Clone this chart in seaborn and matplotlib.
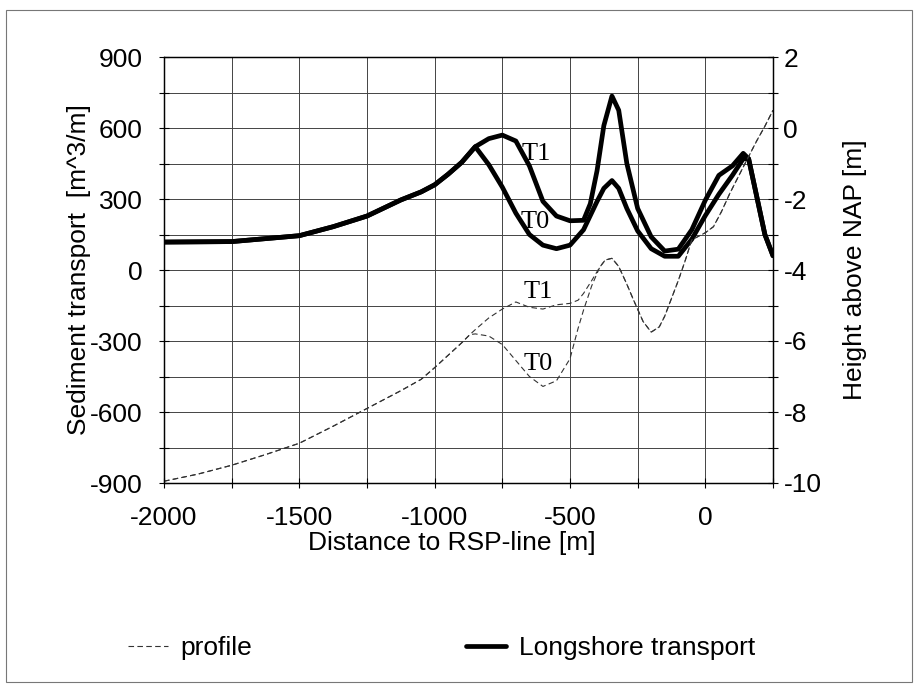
import matplotlib
matplotlib.use('Agg')
import matplotlib.pyplot as plt
from matplotlib.patches import Rectangle
from matplotlib.ticker import MultipleLocator
import pandas as pd
import seaborn as sns

sns.set_theme(style='white')
plt.rcParams['font.family'] = ['Liberation Sans', 'DejaVu Sans']
plt.rcParams['axes.unicode_minus'] = False
plt.rcParams['text.color'] = 'black'
plt.rcParams['axes.labelcolor'] = 'black'
plt.rcParams['xtick.color'] = 'black'
plt.rcParams['ytick.color'] = 'black'

# longshore transport [m^3/m], T0 and T1
x_tr = [-2000, -1750, -1500, -1375, -1250, -1125, -1050, -1000, -950, -900,
        -850, -800, -750, -700, -650, -600, -550, -500, -450, -425,
        -400, -375, -345, -320, -290, -250, -200, -150, -100, -50,
        0, 50, 100, 140, 160, 190, 220, 250]
tr_t1 = [118, 120, 145, 183, 228, 296, 330, 360, 405, 455,
         521, 555, 570, 545, 440, 290, 228, 208, 210, 280,
         420, 610, 735, 675, 450, 260, 140, 80, 88, 170,
         295, 400, 440, 493, 470, 310, 150, 60]
tr_t0 = [118, 120, 145, 183, 228, 296, 330, 360, 405, 455,
         521, 445, 350, 240, 150, 105, 90, 105, 170, 230,
         290, 345, 378, 345, 260, 165, 90, 58, 58, 130,
         230, 320, 400, 470, 470, 310, 150, 60]

# bottom profile, height above NAP [m]
x_pr = [-2000, -1875, -1750, -1625, -1500, -1375, -1250, -1125, -1050, -1000,
        -950, -900, -870, -850, -800, -750, -700, -650, -600, -550,
        -500, -470, -450, -420, -390, -370, -345, -320, -290, -265,
        -230, -200, -170, -150, -120, -100, -75, -50, -25, 0,
        30, 60, 90, 120, 150, 190, 220, 250]
pr_t1 = [-9.95, -9.75, -9.5, -9.2, -8.88, -8.4, -7.9, -7.4, -7.08, -6.75,
         -6.4, -6.05, -5.82, -5.68, -5.35, -5.1, -4.9, -5.05, -5.1, -4.98,
         -4.94, -4.85, -4.66, -4.3, -3.92, -3.72, -3.67, -3.9, -4.4, -4.85,
         -5.45, -5.75, -5.6, -5.3, -4.7, -4.3, -3.75, -3.15, -3.05, -2.95,
         -2.78, -2.35, -1.85, -1.4, -0.95, -0.36, 0.05, 0.5]
pr_t0 = [-9.95, -9.75, -9.5, -9.2, -8.88, -8.4, -7.9, -7.4, -7.08, -6.75,
         -6.4, -6.05, -5.82, -5.8, -5.86, -6.1, -6.55, -7.0, -7.28, -7.12,
         -6.5, -5.64, -5.13, -4.45, -3.92, -3.72, -3.67, -3.9, -4.4, -4.85,
         -5.45, -5.75, -5.6, -5.3, -4.7, -4.3, -3.75, -3.15, -3.05, -2.95,
         -2.78, -2.35, -1.85, -1.4, -0.95, -0.36, 0.05, 0.5]

df_tr = pd.DataFrame({'x': x_tr, 'T0': tr_t0, 'T1': tr_t1})
df_pr = pd.DataFrame({'x': x_pr, 'T0': pr_t0, 'T1': pr_t1})

FS = 19
fig = plt.figure(figsize=(9.16, 6.85), dpi=100)
ax = fig.add_axes([164/916, 1-483/685, 609/916, 426/685])
ax2 = ax.twinx()

# transport (left axis)
sns.lineplot(data=df_tr, x='x', y='T1', ax=ax, color='black', lw=3.4, label='Longshore transport')
sns.lineplot(data=df_tr, x='x', y='T0', ax=ax, color='black', lw=3.4)
# profile (right axis)
sns.lineplot(data=df_pr, x='x', y='T1', ax=ax2, color='#333333', lw=0.8,
             linestyle=(0, (5, 3)), label='profile')
sns.lineplot(data=df_pr, x='x', y='T0', ax=ax2, color='#333333', lw=0.8,
             linestyle=(0, (5, 3)))

ax.set_xlim(-2000, 250)
ax.set_ylim(-900, 900)
ax2.set_ylim(-10, 2)
ax.xaxis.set_major_locator(MultipleLocator(500))
ax.xaxis.set_minor_locator(MultipleLocator(250))
ax.yaxis.set_major_locator(MultipleLocator(300))
ax.yaxis.set_minor_locator(MultipleLocator(150))
ax2.yaxis.set_major_locator(MultipleLocator(2))
ax2.yaxis.set_minor_locator(MultipleLocator(1))

ax.grid(which='both', color='#444444', lw=0.7)
for a in (ax, ax2):
    for sp in a.spines.values():
        sp.set_color('black')
        sp.set_linewidth(0.9)
ax.tick_params(axis='y', which='both', direction='inout', length=7, width=0.8,
               color='black', left=True, pad=12, labelsize=FS)
ax.tick_params(axis='x', which='both', direction='inout', length=7, width=0.8,
               color='black', bottom=True, pad=13, labelsize=FS)
ax2.tick_params(axis='y', which='both', direction='inout', length=7, width=0.8,
                color='black', right=True, pad=4, labelsize=FS)

ax.set_xlabel('Distance to RSP-line [m]', fontsize=FS, va='center')
ax.xaxis.set_label_coords(0.473, -0.142)
ax.set_ylabel('Sediment transport  [m^3/m]', fontsize=FS, va='center')
ax.yaxis.set_label_coords(-0.14, 0.5)
ax2.set_ylabel('Height above NAP [m]', fontsize=FS, va='center', rotation=90)
ax2.yaxis.set_label_coords(1.135, 0.5)

# curve tags
serif = ['Liberation Serif', 'DejaVu Serif']
ax.text(-625, 490, 'T1', family=serif, fontsize=FS, ha='center', va='center')
ax.text(-628, 203, 'T0', family=serif, fontsize=FS, ha='center', va='center')
ax2.text(-617, -4.62, 'T1', family=serif, fontsize=FS, ha='center', va='center')
ax2.text(-617, -6.65, 'T0', family=serif, fontsize=FS, ha='center', va='center')

# legend under the chart
h_tr = ax.get_legend_handles_labels()
h_pr = ax2.get_legend_handles_labels()
ax.get_legend().remove()
ax2.get_legend().remove()
fig.legend(h_pr[0] + h_tr[0], h_pr[1] + h_tr[1], loc='center left',
           bbox_to_anchor=(128/916, 1-648/685), ncol=2, frameon=False,
           fontsize=FS, handlelength=1.5, handletextpad=0.5,
           columnspacing=8.1, borderpad=0, borderaxespad=0)

# frame around the whole picture
fig.patches.append(Rectangle((6/916, 3/685), 906/916, 672/685, transform=fig.transFigure,
                             fill=False, ec='#777777', lw=0.8))

fig.savefig('out.png', dpi=100)
